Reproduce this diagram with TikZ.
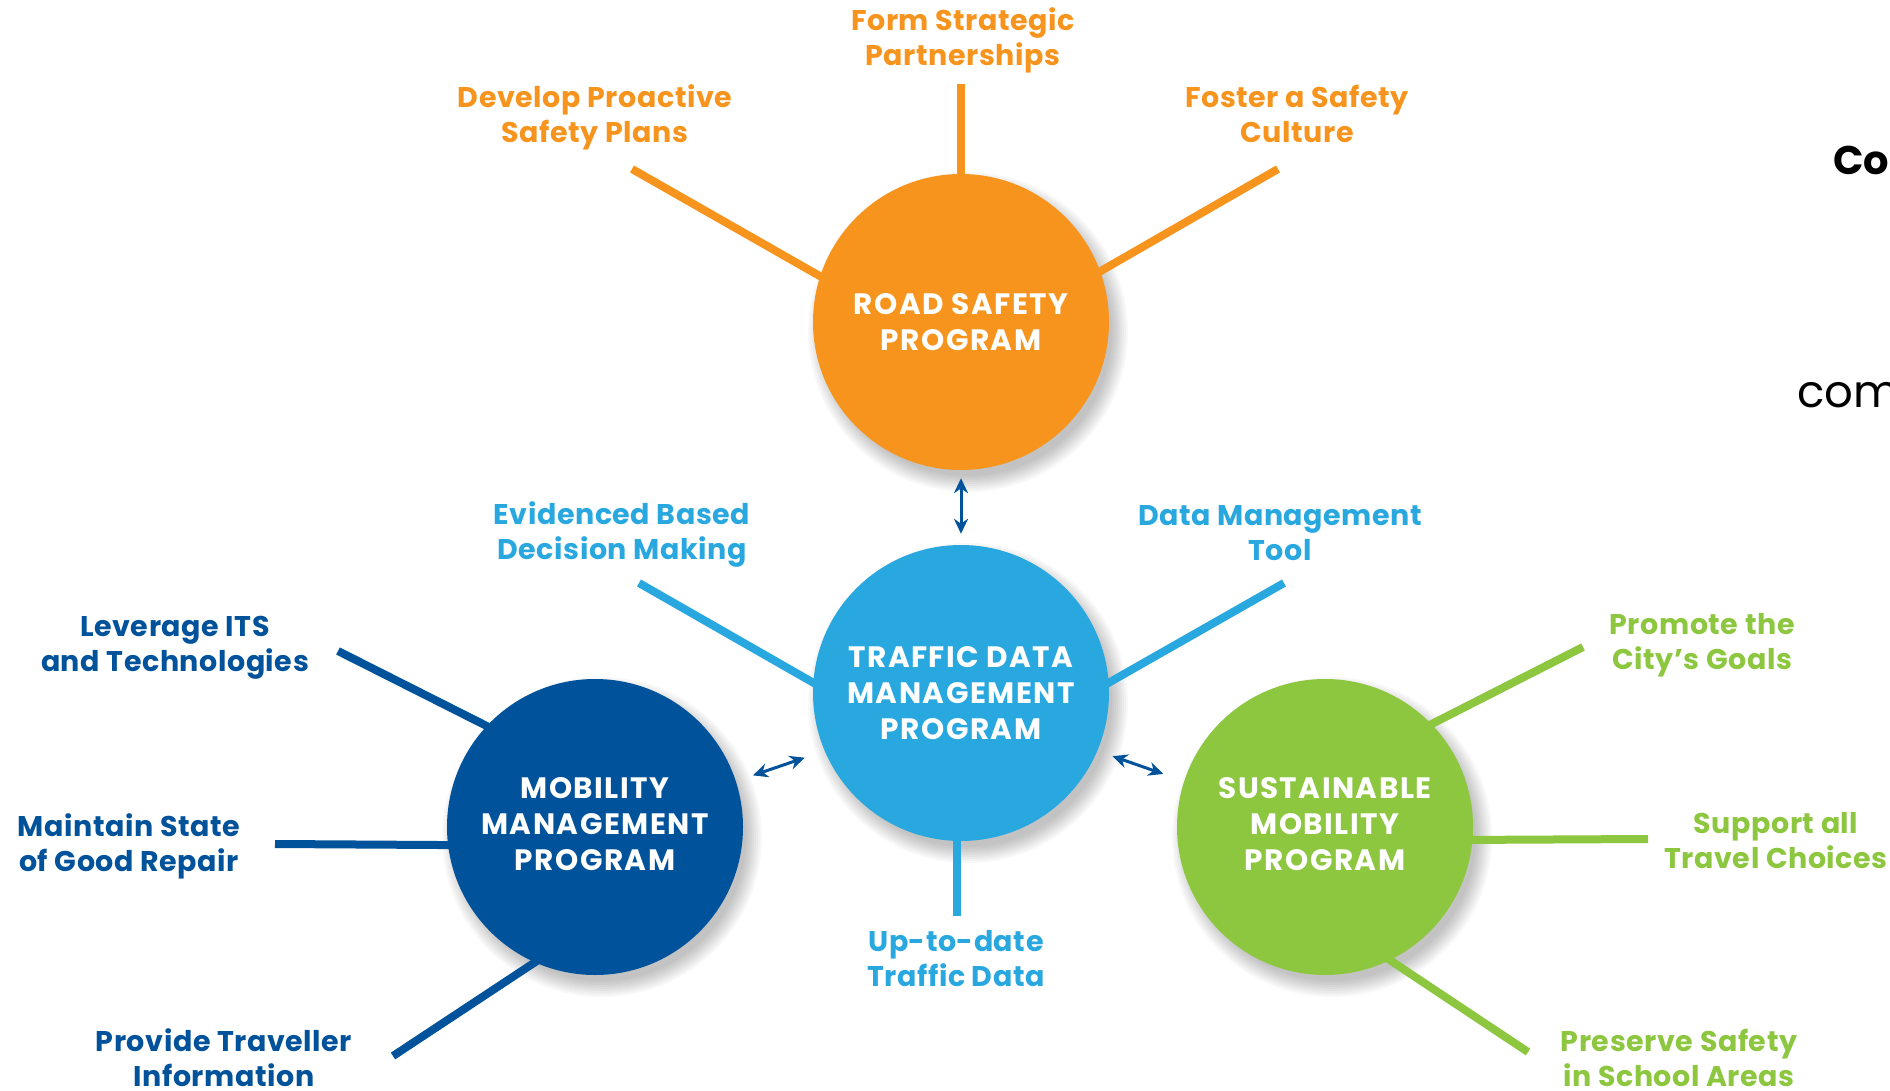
\documentclass[tikz,border=0pt]{standalone}
\usepackage{fontspec}
\setmainfont{Poppins}
\usetikzlibrary{arrows.meta,backgrounds}
\definecolor{cOrange}{HTML}{F7941D}
\definecolor{cLight}{HTML}{29A8E0}
\definecolor{cDark}{HTML}{00529B}
\definecolor{cGreen}{HTML}{8DC63F}
\begin{document}
\begin{tikzpicture}[x=1pt,y=-1pt,
  prog/.style={circle, minimum size=296pt, inner sep=0pt, text=white,
    font=\bfseries\fontsize{29.5}{36}\selectfont\addfontfeatures{LetterSpace=5}, align=center},
  lbl/.style={font=\bfseries\fontsize{28.5}{35}\selectfont\addfontfeatures{LetterSpace=2}, align=center, inner sep=0pt},
  spoke/.style={line width=8pt, shorten >=-6pt},
  link/.style={cDark, line width=3pt, {Stealth[length=15pt,width=14pt]}-{Stealth[length=15pt,width=14pt]}},
  shade/.style={fill=black, opacity=0.028},
]
\useasboundingbox (0,0) rectangle (1890,1091);
\clip (0,0) rectangle (1890,1091);

% program circles
\node[prog, fill=cOrange] (road) at (961,322) {ROAD SAFETY\\PROGRAM};
\node[prog, fill=cLight]  (tdm)  at (961,693) {TRAFFIC DATA\\MANAGEMENT\\PROGRAM};
\node[prog, fill=cDark]   (mob)  at (595,827) {};
\node[prog, fill=cGreen]  (sus)  at (1325,827) {};
\node[prog] (mobt) at (595,824) {MOBILITY\\MANAGEMENT\\PROGRAM};
\node[prog] (sust) at (1325,824) {SUSTAINABLE\\MOBILITY\\PROGRAM};

% labels
\node[lbl, text=cOrange] (fsp) at (963,40)  {Form Strategic\\Partnerships};
\node[lbl, text=cOrange] (dps) at (595,117) {Develop Proactive\\Safety Plans};
\node[lbl, text=cOrange] (fsc) at (1297,114) {Foster a Safety\\Culture};
\node[lbl, text=cLight]  (ebd) at (622,535) {Evidenced Based\\Decision Making};
\node[lbl, text=cLight]  (dmt) at (1280,533) {Data Management\\Tool};
\node[lbl, text=cLight]  (utd) at (956,959) {Up-to-date\\Traffic Data};
\node[lbl, text=cDark]   (lit) at (175,648) {Leverage ITS\\and Technologies};
\node[lbl, text=cDark]   (mgr) at (129,846) {Maintain State\\of Good Repair};
\node[lbl, text=cDark]   (ptr) at (224,1058) {Provide Traveller\\Information};
\node[lbl, text=cGreen]  (pcg) at (1702,645) {Promote the\\City’s Goals};
\node[lbl, text=cGreen]  (sat) at (1776,841) {Support all\\Travel Choices};
\node[lbl, text=cGreen]  (pss) at (1679,1058) {Preserve Safety\\in School Areas};

% cut-off text at right edge
\node[anchor=base west, inner sep=0pt, font=\bfseries\fontsize{40}{48}\selectfont] (co) at (1833,175) {Co};
\node[anchor=base west, inner sep=0pt, font=\fontsize{45}{54}\selectfont] (comm) at (1797,407) {comm};

% spoke free ends
\coordinate (o1) at (961,84);
\coordinate (o2) at (632,169);
\coordinate (o3) at (1278,169);
\coordinate (l1) at (639,583);
\coordinate (l2) at (1284,583);
\coordinate (l3) at (957,916);
\coordinate (d1) at (338,651);
\coordinate (d2) at (275,844);
\coordinate (d3) at (393,1056);
\coordinate (g1) at (1583,647);
\coordinate (g2) at (1648,839);
\coordinate (g3) at (1528,1052);

\begin{pgfonlayer}{background}
  \fill[white] (0,0) rectangle (1890,1091);
  \foreach \n in {road,tdm,mob,sus}{
    \foreach \i in {0,...,8}{
      \fill[shade] ([shift={(7pt,-10pt)}]\n.center) circle[radius={(160-2*\i)*1pt}];
    }
  }
  \draw[spoke, cOrange] (o1) -- (road.north -| o1);
  \draw[spoke, cOrange] (o2) -- (road.162);
  \draw[spoke, cOrange] (o3) -- (road.20);
  \draw[spoke, cLight] (l1) -- (tdm.176);
  \draw[spoke, cLight] (l2) -- (tdm.4);
  \draw[spoke, cLight] (l3) -- (tdm.south -| l3);
  \draw[spoke, cDark] (d1) -- (mob.137);
  \draw[spoke, cDark] (d2) -- (mob.187);
  \draw[spoke, cDark] (d3) -- (mob.246);
  \draw[spoke, cGreen] (g1) -- (sus.44);
  \draw[spoke, cGreen] (g2) -- (sus.355);
  \draw[spoke, cGreen] (g3) -- (sus.296);
\end{pgfonlayer}

% links between programs
\draw[link, shorten <=8pt, shorten >=11pt] (road) -- (tdm);
\draw[link, shorten <=18pt, shorten >=21pt] (mob.18) -- (tdm.203);
\draw[link, shorten <=16pt, shorten >=22pt] (tdm.337) -- (sus.162);
\end{tikzpicture}
\end{document}
